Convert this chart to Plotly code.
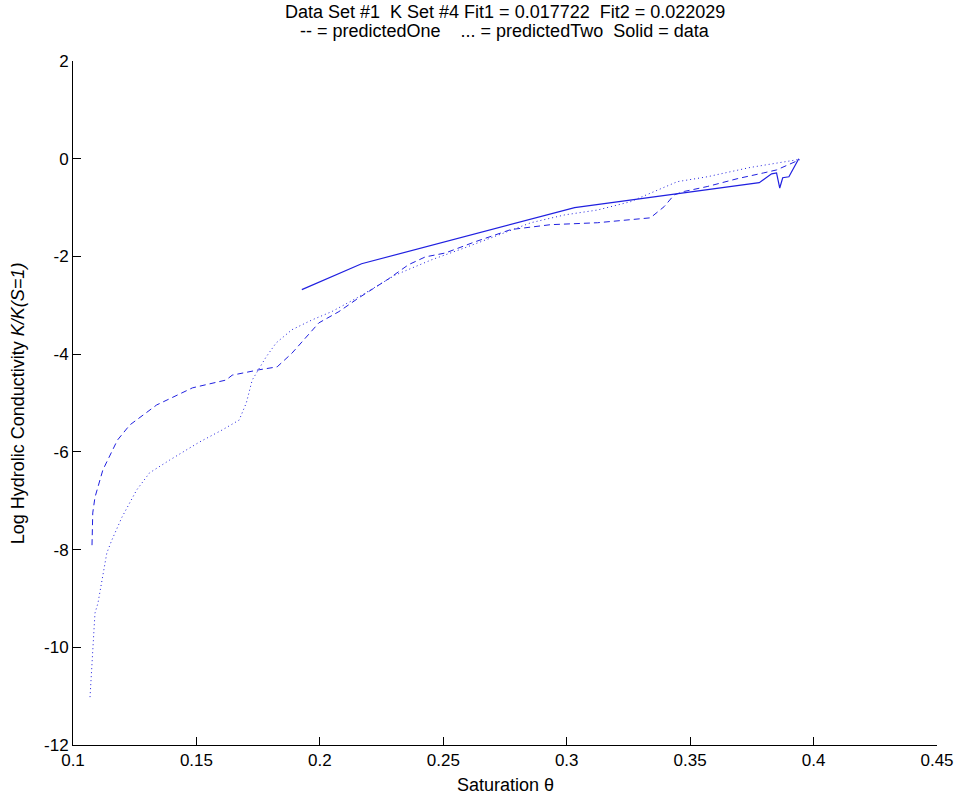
import plotly.graph_objects as go

# predictedOne (dashed)
p1_x = [0.1077, 0.1080, 0.1089, 0.1121, 0.1180, 0.1230, 0.1339, 0.1484, 0.1620, 0.1645, 0.1754, 0.1827,
        0.1887, 0.1944, 0.1996, 0.2077, 0.2157, 0.2278, 0.2359, 0.2427, 0.2508, 0.2629, 0.2774, 0.2935,
        0.3125, 0.3339, 0.3395, 0.3435, 0.3476, 0.3569, 0.3690, 0.3798, 0.3850, 0.3944]
p1_y = [-7.91, -7.25, -6.93, -6.37, -5.76, -5.45, -5.04, -4.69, -4.53, -4.43, -4.32, -4.26,
        -3.98, -3.65, -3.36, -3.13, -2.85, -2.46, -2.17, -2.01, -1.93, -1.70, -1.45, -1.35,
        -1.31, -1.21, -0.98, -0.74, -0.67, -0.57, -0.41, -0.29, -0.23, -0.02]

# predictedTwo (dotted)
p2_x = [0.1069, 0.1080, 0.1089, 0.1101, 0.1117, 0.1137, 0.1157, 0.1198, 0.1258, 0.1310, 0.1391, 0.1512,
        0.1605, 0.1673, 0.1702, 0.1726, 0.1782, 0.1823, 0.1887, 0.1968, 0.2048, 0.2157, 0.2306, 0.2387,
        0.2452, 0.2589, 0.2750, 0.2855, 0.2992, 0.3125, 0.3258, 0.3407, 0.3448, 0.3569, 0.3742, 0.3935]
p2_y = [-11.02, -10.10, -9.30, -9.10, -8.63, -8.07, -7.81, -7.34, -6.78, -6.43, -6.17, -5.80,
        -5.55, -5.35, -5.00, -4.53, -4.06, -3.77, -3.50, -3.30, -3.13, -2.83, -2.38, -2.21,
        -2.07, -1.82, -1.52, -1.31, -1.15, -1.05, -0.88, -0.57, -0.47, -0.37, -0.18, -0.02]

# data (solid)
d_x = [0.1927, 0.2169, 0.3032, 0.3780, 0.3830, 0.3850, 0.3863, 0.3875, 0.3900, 0.3940]
d_y = [-2.68, -2.15, -1.00, -0.49, -0.31, -0.29, -0.60, -0.39, -0.37, 0.00]

x_ticks = [0.1, 0.15, 0.2, 0.25, 0.3, 0.35, 0.4, 0.45]
x_labels = ["0.1", "0.15", "0.2", "0.25", "0.3", "0.35", "0.4", "0.45"]
y_ticks = [-12, -10, -8, -6, -4, -2, 0, 2]
y_labels = ["-12", "-10", "-8", "-6", "-4", "-2", "0", "2"]

title_line1 = "Data Set #1\u00a0\u00a0K Set #4 Fit1 = 0.017722\u00a0\u00a0Fit2 = 0.022029"
title_line2 = "-- = predictedOne\u00a0\u00a0\u00a0\u00a0... = predictedTwo\u00a0\u00a0Solid = data"
x_title = "Saturation θ"
y_title = "Log Hydrolic Conductivity <i>K/K(S=1)</i>"

color = "#2020e0"
fig = go.Figure()
fig.add_trace(go.Scatter(x=p1_x, y=p1_y, mode="lines",
                         line=dict(color=color, width=1, dash="6px,4px")))
fig.add_trace(go.Scatter(x=p2_x, y=p2_y, mode="lines",
                         line=dict(color=color, width=1, dash="1px,3px")))
fig.add_trace(go.Scatter(x=d_x, y=d_y, mode="lines",
                         line=dict(color=color, width=1.2)))

font = "Liberation Sans, Arial, sans-serif"
T = 61
B = 745
H = B - T
L = 73
W = 941 - 73

def py(pix):
    return (B - pix) / H

def px(pix):
    return (pix - L) / W

annots = [
    dict(text=title_line1, x=0.5, y=py(12), xref="paper", yref="paper",
         xanchor="center", yanchor="middle", showarrow=False, font=dict(size=18, family=font, color="black")),
    dict(text=title_line2, x=0.5, y=py(31), xref="paper", yref="paper",
         xanchor="center", yanchor="middle", showarrow=False, font=dict(size=18, family=font, color="black")),
    dict(text=x_title, x=0.5, y=py(785), xref="paper", yref="paper",
         xanchor="center", yanchor="middle", showarrow=False, font=dict(size=18, family=font, color="black")),
    dict(text=y_title, x=px(18), y=0.5, xref="paper", yref="paper", textangle=-90,
         xanchor="center", yanchor="middle", showarrow=False, font=dict(size=18, family=font, color="black")),
]

fig.update_layout(
    width=966, height=798,
    margin=dict(l=L, r=966 - 941, t=T, b=798 - B),
    paper_bgcolor="white", plot_bgcolor="white",
    showlegend=False,
    font=dict(family=font, color="black", size=17),
    annotations=annots,
    xaxis=dict(range=[0.1, 0.45], tickvals=x_ticks, ticktext=x_labels,
               showgrid=False, zeroline=False, showline=True, linecolor="black", linewidth=1,
               ticks="inside", ticklen=8, tickcolor="black", mirror=False,
               tickfont=dict(size=17, family=font)),
    yaxis=dict(range=[-12, 2], tickvals=y_ticks, ticktext=y_labels,
               showgrid=False, zeroline=False, showline=True, linecolor="black", linewidth=1,
               ticks="inside", ticklen=8, tickcolor="black", mirror=False,
               tickfont=dict(size=17, family=font)),
)

fig.write_html("out.html")
